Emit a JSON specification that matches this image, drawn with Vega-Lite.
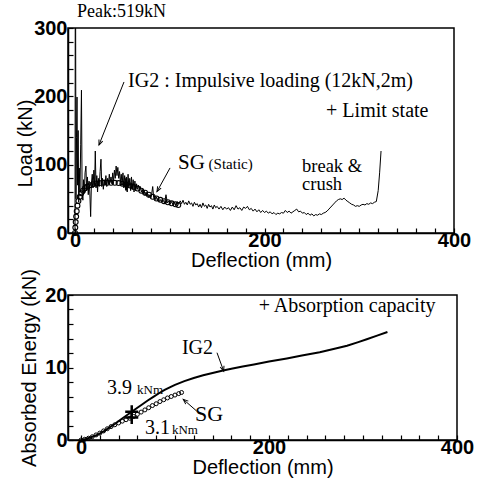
{
  "$schema": "https://vega.github.io/schema/vega-lite/v6.json",
  "background": "white",
  "padding": {"left": 14, "top": 2, "right": 0, "bottom": 0},
  "spacing": -4,
  "config": {
    "view": {"stroke": "black", "strokeWidth": 1.5},
    "axis": {
      "grid": false,
      "domainColor": "black",
      "domainWidth": 1.5,
      "tickColor": "black",
      "tickWidth": 1.2,
      "tickSize": -5,
      "labelFont": "Liberation Sans",
      "labelFontSize": 20,
      "labelFontWeight": "bold",
      "labelColor": "black",
      "labelFlush": false,
      "labelPadding": 2,
      "titleFont": "Liberation Sans",
      "titleFontSize": 20,
      "titleFontWeight": "normal",
      "titleColor": "black"
    },
    "axisY": {"labelPadding": 6},
    "text": {"font": "Liberation Serif", "color": "black"}
  },
  "datasets": {
    "ig2_load": [
      {"d": 0, "v": 0}, {"d": 0.4, "v": 519}, {"d": 1.0, "v": 50}, {"d": 1.6, "v": 140},
      {"d": 2.1, "v": 199}, {"d": 2.7, "v": 70}, {"d": 3.3, "v": 150}, {"d": 3.9, "v": 45},
      {"d": 4.5, "v": 95}, {"d": 5.2, "v": 60}, {"d": 6.0, "v": 130}, {"d": 6.8, "v": 209},
      {"d": 7.5, "v": 60}, {"d": 8.3, "v": 48}, {"d": 9.0, "v": 78}, {"d": 9.8, "v": 58},
      {"d": 10.6, "v": 88}, {"d": 11.5, "v": 98}, {"d": 12.3, "v": 62}, {"d": 13.1, "v": 82},
      {"d": 14.0, "v": 56}, {"d": 14.8, "v": 76}, {"d": 15.6, "v": 60}, {"d": 16.5, "v": 24},
      {"d": 17.3, "v": 72}, {"d": 18.2, "v": 86}, {"d": 19.0, "v": 66}, {"d": 19.9, "v": 92},
      {"d": 20.7, "v": 70}, {"d": 21.4, "v": 120}, {"d": 22.2, "v": 66}, {"d": 23.0, "v": 84},
      {"d": 23.8, "v": 60}, {"d": 24.6, "v": 80}, {"d": 25.5, "v": 68}, {"d": 26.5, "v": 90},
      {"d": 27.4, "v": 108}, {"d": 28.2, "v": 68}, {"d": 29.0, "v": 80}, {"d": 29.9, "v": 64},
      {"d": 30.8, "v": 78}, {"d": 31.7, "v": 70}, {"d": 32.6, "v": 84}, {"d": 33.5, "v": 68},
      {"d": 34.4, "v": 80}, {"d": 35.3, "v": 72}, {"d": 36.2, "v": 86}, {"d": 37.1, "v": 74},
      {"d": 38.0, "v": 82}, {"d": 38.9, "v": 72}, {"d": 39.8, "v": 88}, {"d": 40.7, "v": 76},
      {"d": 41.6, "v": 92}, {"d": 42.5, "v": 80}, {"d": 43.4, "v": 98}, {"d": 44.3, "v": 84},
      {"d": 45.2, "v": 96}, {"d": 46.1, "v": 80}, {"d": 47.0, "v": 90}, {"d": 47.9, "v": 74},
      {"d": 48.8, "v": 86}, {"d": 49.7, "v": 70}, {"d": 50.6, "v": 88}, {"d": 51.5, "v": 66},
      {"d": 52.4, "v": 84}, {"d": 53.3, "v": 64}, {"d": 54.2, "v": 82}, {"d": 55.1, "v": 60},
      {"d": 56.0, "v": 86}, {"d": 56.9, "v": 66}, {"d": 57.8, "v": 80}, {"d": 58.7, "v": 62},
      {"d": 59.6, "v": 82}, {"d": 60.5, "v": 64}, {"d": 61.4, "v": 78}, {"d": 62.3, "v": 60},
      {"d": 63.2, "v": 76}, {"d": 64.1, "v": 62}, {"d": 65.0, "v": 72}, {"d": 66.0, "v": 64},
      {"d": 67.0, "v": 70}, {"d": 68.0, "v": 62}, {"d": 69.0, "v": 68}, {"d": 70.0, "v": 60},
      {"d": 71.0, "v": 64}, {"d": 72.0, "v": 57}, {"d": 73.0, "v": 62}, {"d": 74.0, "v": 55},
      {"d": 75.0, "v": 60}, {"d": 76.0, "v": 54}, {"d": 77.0, "v": 57}, {"d": 78.0, "v": 52},
      {"d": 79.0, "v": 56}, {"d": 80.0, "v": 51}, {"d": 81.0, "v": 58}, {"d": 82.0, "v": 68},
      {"d": 83.0, "v": 52}, {"d": 84.0, "v": 54}, {"d": 85.0, "v": 49}, {"d": 86.0, "v": 53},
      {"d": 87.0, "v": 47}, {"d": 88.0, "v": 51}, {"d": 89.0, "v": 46}, {"d": 90.0, "v": 49},
      {"d": 91.5, "v": 45}, {"d": 93.0, "v": 48}, {"d": 94.5, "v": 44}, {"d": 96.0, "v": 56},
      {"d": 97.5, "v": 44}, {"d": 99.0, "v": 47}, {"d": 100.5, "v": 42}, {"d": 102.0, "v": 46},
      {"d": 103.5, "v": 41}, {"d": 105.0, "v": 45}, {"d": 106.5, "v": 40}, {"d": 108.0, "v": 46},
      {"d": 109.5, "v": 42}, {"d": 111.0, "v": 47}, {"d": 112.5, "v": 43}, {"d": 114.0, "v": 48},
      {"d": 115.5, "v": 42}, {"d": 117.0, "v": 45}, {"d": 118.5, "v": 41}, {"d": 120.0, "v": 47},
      {"d": 121.5, "v": 42}, {"d": 123.0, "v": 44}, {"d": 124.5, "v": 39}, {"d": 126.0, "v": 45},
      {"d": 127.5, "v": 41}, {"d": 129.0, "v": 43}, {"d": 130.5, "v": 38}, {"d": 132.0, "v": 42},
      {"d": 133.5, "v": 37}, {"d": 135.0, "v": 44}, {"d": 136.5, "v": 39}, {"d": 138.0, "v": 41},
      {"d": 139.5, "v": 36}, {"d": 141.0, "v": 42}, {"d": 142.5, "v": 38}, {"d": 144.0, "v": 40},
      {"d": 145.5, "v": 35}, {"d": 147.0, "v": 41}, {"d": 148.5, "v": 37}, {"d": 150.0, "v": 39},
      {"d": 152.0, "v": 35}, {"d": 154.0, "v": 39}, {"d": 156.0, "v": 34}, {"d": 158.0, "v": 38},
      {"d": 160.0, "v": 35}, {"d": 162.0, "v": 37}, {"d": 164.0, "v": 33}, {"d": 166.0, "v": 38},
      {"d": 168.0, "v": 34}, {"d": 170.0, "v": 40}, {"d": 172.0, "v": 35}, {"d": 174.0, "v": 37},
      {"d": 176.0, "v": 33}, {"d": 178.0, "v": 38}, {"d": 180.0, "v": 36}, {"d": 182.0, "v": 39},
      {"d": 184.0, "v": 34}, {"d": 186.0, "v": 36}, {"d": 188.0, "v": 32}, {"d": 190.0, "v": 35},
      {"d": 192.0, "v": 31}, {"d": 194.0, "v": 34}, {"d": 196.0, "v": 30}, {"d": 198.0, "v": 33},
      {"d": 200.0, "v": 30}, {"d": 202.0, "v": 32}, {"d": 204.0, "v": 29}, {"d": 206.0, "v": 31},
      {"d": 208.0, "v": 28}, {"d": 210.0, "v": 30}, {"d": 212.0, "v": 27}, {"d": 214.0, "v": 29},
      {"d": 216.0, "v": 28}, {"d": 218.0, "v": 30}, {"d": 220.0, "v": 29}, {"d": 222.0, "v": 33},
      {"d": 224.0, "v": 30}, {"d": 226.0, "v": 32}, {"d": 228.0, "v": 29}, {"d": 230.0, "v": 31},
      {"d": 232.0, "v": 33}, {"d": 234.0, "v": 35}, {"d": 236.0, "v": 31}, {"d": 238.0, "v": 32},
      {"d": 240.0, "v": 29}, {"d": 242.0, "v": 30}, {"d": 244.0, "v": 27}, {"d": 246.0, "v": 29},
      {"d": 248.0, "v": 26}, {"d": 250.0, "v": 28}, {"d": 252.0, "v": 25}, {"d": 254.0, "v": 27},
      {"d": 256.0, "v": 26}, {"d": 258.0, "v": 28}, {"d": 260.0, "v": 27}, {"d": 262.0, "v": 29},
      {"d": 264.0, "v": 30}, {"d": 266.0, "v": 32}, {"d": 268.0, "v": 35}, {"d": 270.0, "v": 38},
      {"d": 272.0, "v": 41}, {"d": 274.0, "v": 44}, {"d": 276.0, "v": 47}, {"d": 278.0, "v": 49},
      {"d": 280.0, "v": 50}, {"d": 282.0, "v": 49}, {"d": 284.0, "v": 51}, {"d": 286.0, "v": 48},
      {"d": 288.0, "v": 46}, {"d": 290.0, "v": 44}, {"d": 292.0, "v": 42}, {"d": 294.0, "v": 41},
      {"d": 296.0, "v": 39}, {"d": 298.0, "v": 40}, {"d": 300.0, "v": 39}, {"d": 302.0, "v": 41},
      {"d": 304.0, "v": 42}, {"d": 306.0, "v": 41}, {"d": 308.0, "v": 43}, {"d": 310.0, "v": 42},
      {"d": 312.0, "v": 44}, {"d": 314.0, "v": 43}, {"d": 316.0, "v": 45}, {"d": 318.0, "v": 46},
      {"d": 320.0, "v": 62}, {"d": 321.5, "v": 88}, {"d": 323.0, "v": 120}
    ],
    "sg_load": [
      {"d": 0, "v": 0}, {"d": 0.3, "v": 8}, {"d": 0.7, "v": 16}, {"d": 1.2, "v": 24},
      {"d": 1.8, "v": 32}, {"d": 2.6, "v": 40}, {"d": 3.6, "v": 47}, {"d": 5.0, "v": 53},
      {"d": 6.6, "v": 58}, {"d": 8.4, "v": 62}, {"d": 10.5, "v": 65.5}, {"d": 13.0, "v": 68},
      {"d": 16.0, "v": 70}, {"d": 19.0, "v": 71.5}, {"d": 22.5, "v": 72.5}, {"d": 26.0, "v": 73},
      {"d": 30.0, "v": 73.5}, {"d": 34.0, "v": 73.5}, {"d": 38.0, "v": 73.5}, {"d": 42.0, "v": 73.5},
      {"d": 46.0, "v": 73}, {"d": 50.0, "v": 72}, {"d": 54.0, "v": 71}, {"d": 58.0, "v": 69.5},
      {"d": 62.0, "v": 67.5}, {"d": 66.0, "v": 65}, {"d": 70.0, "v": 62}, {"d": 74.0, "v": 59},
      {"d": 78.0, "v": 56}, {"d": 82.0, "v": 53}, {"d": 86.0, "v": 50.5}, {"d": 90.0, "v": 48.5},
      {"d": 94.0, "v": 46.5}, {"d": 98.0, "v": 45}, {"d": 102.0, "v": 43.5}, {"d": 106.0, "v": 42},
      {"d": 109.0, "v": 41}
    ],
    "ig2_energy": [
      {"d": 0, "v": 0}, {"d": 5, "v": 0.15}, {"d": 10, "v": 0.35}, {"d": 18, "v": 0.75},
      {"d": 25, "v": 1.25}, {"d": 30, "v": 1.7}, {"d": 36, "v": 2.2}, {"d": 42, "v": 2.8},
      {"d": 48, "v": 3.35}, {"d": 54, "v": 3.9}, {"d": 60, "v": 4.45}, {"d": 65, "v": 4.9},
      {"d": 71, "v": 5.45}, {"d": 77, "v": 5.95}, {"d": 83, "v": 6.45}, {"d": 89, "v": 6.9},
      {"d": 95, "v": 7.3}, {"d": 100, "v": 7.6}, {"d": 110, "v": 8.12}, {"d": 120, "v": 8.55},
      {"d": 130, "v": 8.92}, {"d": 140, "v": 9.25}, {"d": 150, "v": 9.55}, {"d": 160, "v": 9.83},
      {"d": 172, "v": 10.13}, {"d": 184, "v": 10.42}, {"d": 200, "v": 10.82}, {"d": 219, "v": 11.25},
      {"d": 235, "v": 11.65}, {"d": 254, "v": 12.1}, {"d": 272, "v": 12.65}, {"d": 283, "v": 13.0},
      {"d": 295, "v": 13.5}, {"d": 304, "v": 13.9}, {"d": 315, "v": 14.4}, {"d": 326, "v": 14.9}
    ],
    "sg_energy": [
      {"d": 0, "v": 0}, {"d": 4, "v": 0.1}, {"d": 8, "v": 0.25}, {"d": 12, "v": 0.45},
      {"d": 16, "v": 0.7}, {"d": 20, "v": 0.95}, {"d": 24, "v": 1.25}, {"d": 28, "v": 1.55},
      {"d": 32, "v": 1.85}, {"d": 36, "v": 2.1}, {"d": 40, "v": 2.35}, {"d": 44, "v": 2.6},
      {"d": 48, "v": 2.8}, {"d": 52, "v": 3.0}, {"d": 56, "v": 3.25}, {"d": 60, "v": 3.55},
      {"d": 64, "v": 3.85}, {"d": 68, "v": 4.15}, {"d": 72, "v": 4.45}, {"d": 76, "v": 4.75},
      {"d": 80, "v": 5.0}, {"d": 84, "v": 5.3}, {"d": 88, "v": 5.55}, {"d": 92, "v": 5.8},
      {"d": 96, "v": 6.0}, {"d": 100, "v": 6.2}, {"d": 104, "v": 6.4}, {"d": 107, "v": 6.55}
    ]
  },
  "vconcat": [
    {
      "width": 386,
      "height": 205,
      "encoding": {
        "x": {
          "field": "d", "type": "quantitative",
          "scale": {"domain": [-7.4, 400], "nice": false, "zero": false},
          "axis": {
            "title": "Deflection (mm)",
            "values": [0, 20, 40, 60, 80, 100, 120, 140, 160, 180, 200, 220, 240, 260, 280, 300, 320, 340, 360, 380, 400],
            "labelExpr": "datum.value % 200 === 0 ? datum.label : ''",
            "titlePadding": 0
          }
        },
        "y": {
          "field": "v", "type": "quantitative",
          "scale": {"domain": [0, 300], "nice": false},
          "axis": {
            "title": "Load (kN)",
            "values": [0, 20, 40, 60, 80, 100, 120, 140, 160, 180, 200, 220, 240, 260, 280, 300],
            "labelExpr": "datum.value % 100 === 0 ? datum.label : ''",
            "titlePadding": -2,
            "titleY": 115
          }
        }
      },
      "layer": [
        {
          "data": {"name": "ig2_load"},
          "mark": {"type": "line", "color": "black", "strokeWidth": 1, "clip": true}
        },
        {
          "data": {"name": "sg_load"},
          "mark": {"type": "point", "shape": "circle", "filled": false, "color": "black", "size": 24, "strokeWidth": 1.1, "opacity": 1}
        },
        {
          "data": {"values": [{"d": 54, "v": 71}]},
          "mark": {"type": "point", "shape": "M-1,0L1,0M0,-1L0,1", "filled": false, "color": "black", "size": 150, "strokeWidth": 2.2, "opacity": 1}
        },
        {
          "data": {"values": [
            {"d": 51.7, "v": 221, "d2": 25.3, "v2": 128.8},
            {"d": 100.3, "v": 95.2, "d2": 86.5, "v2": 60.5}
          ]},
          "mark": {"type": "rule", "color": "black", "strokeWidth": 1},
          "encoding": {"x2": {"field": "d2"}, "y2": {"field": "v2"}}
        },
        {
          "data": {"values": [{"d": 25.3, "v": 128.8}]},
          "mark": {"type": "point", "shape": "M-0.8,2L0,0L0.8,2", "filled": false, "color": "black", "size": 25, "strokeWidth": 1, "angle": 201.6, "opacity": 1}
        },
        {
          "data": {"values": [{"d": 86.5, "v": 60.5}]},
          "mark": {"type": "point", "shape": "M-0.8,2L0,0L0.8,2", "filled": false, "color": "black", "size": 25, "strokeWidth": 1, "angle": 208.7, "opacity": 1}
        },
        {
          "data": {"values": [
            {"d": 56, "v": 222.5, "t": "IG2 : Impulsive loading (12kN,2m)"},
            {"d": 265, "v": 178.6, "t": "+  Limit state"}
          ]},
          "mark": {"type": "text", "align": "left", "baseline": "middle", "fontSize": 20},
          "encoding": {"text": {"field": "t"}}
        },
        {
          "data": {"values": [
            {"d": 239.6, "v": 98.5, "t": "break &"},
            {"d": 239.6, "v": 71, "t": "crush"}
          ]},
          "mark": {"type": "text", "align": "left", "baseline": "middle", "fontSize": 18.5},
          "encoding": {"text": {"field": "t"}}
        },
        {
          "data": {"values": [{"d": 2, "v": 323.6, "t": "Peak:519kN"}]},
          "mark": {"type": "text", "align": "left", "baseline": "middle", "fontSize": 18},
          "encoding": {"text": {"field": "t"}}
        },
        {
          "data": {"values": [{"d": 108.7, "v": 102.5, "t": "SG"}]},
          "mark": {"type": "text", "align": "left", "baseline": "middle", "fontSize": 21},
          "encoding": {"text": {"field": "t"}}
        },
        {
          "data": {"values": [{"d": 141, "v": 101.5, "t": "(Static)"}]},
          "mark": {"type": "text", "align": "left", "baseline": "middle", "fontSize": 15},
          "encoding": {"text": {"field": "t"}}
        }
      ]
    },
    {
      "width": 389,
      "height": 145,
      "encoding": {
        "x": {
          "field": "d", "type": "quantitative",
          "scale": {"domain": [-13.8, 400], "nice": false, "zero": false},
          "axis": {
            "title": "Deflection (mm)",
            "values": [0, 20, 40, 60, 80, 100, 120, 140, 160, 180, 200, 220, 240, 260, 280, 300, 320, 340, 360, 380, 400],
            "labelExpr": "datum.value % 200 === 0 ? datum.label : ''",
            "titlePadding": 0
          }
        },
        "y": {
          "field": "v", "type": "quantitative",
          "scale": {"domain": [0, 20], "nice": false},
          "axis": {
            "title": "Absorbed Energy (kN)",
            "values": [0, 2, 4, 6, 8, 10, 12, 14, 16, 18, 20],
            "labelExpr": "datum.value % 10 === 0 ? datum.label : ''",
            "titlePadding": 5
          }
        }
      },
      "layer": [
        {
          "data": {"name": "ig2_energy"},
          "mark": {"type": "line", "color": "black", "strokeWidth": 2, "clip": true}
        },
        {
          "data": {"name": "sg_energy"},
          "mark": {"type": "point", "shape": "circle", "filled": false, "color": "black", "size": 16, "strokeWidth": 1, "opacity": 1}
        },
        {
          "data": {"values": [{"d": 54, "v": 3.9}, {"d": 54, "v": 3.1}]},
          "mark": {"type": "point", "shape": "M-1,0L1,0M0,-1L0,1", "filled": false, "color": "black", "size": 170, "strokeWidth": 2.5, "opacity": 1}
        },
        {
          "data": {"values": [
            {"d": 144.7, "v": 12.04, "d2": 151.8, "v2": 9.5},
            {"d": 123, "v": 4.0, "d2": 108.8, "v2": 5.61}
          ]},
          "mark": {"type": "rule", "color": "black", "strokeWidth": 1},
          "encoding": {"x2": {"field": "d2"}, "y2": {"field": "v2"}}
        },
        {
          "data": {"values": [{"d": 151.8, "v": 9.5}]},
          "mark": {"type": "point", "shape": "M-0.8,2L0,0L0.8,2", "filled": false, "color": "black", "size": 25, "strokeWidth": 1, "angle": 161.5, "opacity": 1}
        },
        {
          "data": {"values": [{"d": 108.8, "v": 5.61}]},
          "mark": {"type": "point", "shape": "M-0.8,2L0,0L0.8,2", "filled": false, "color": "black", "size": 25, "strokeWidth": 1, "angle": 311, "opacity": 1}
        },
        {
          "data": {"values": [
            {"d": 189, "v": 18.5, "t": "+ Absorption capacity"},
            {"d": 107.4, "v": 12.7, "t": "IG2"},
            {"d": 27.7, "v": 7.17, "t": "3.9"},
            {"d": 68, "v": 1.66, "t": "3.1"}
          ]},
          "mark": {"type": "text", "align": "left", "baseline": "middle", "fontSize": 20},
          "encoding": {"text": {"field": "t"}}
        },
        {
          "data": {"values": [{"d": 121.3, "v": 3.6, "t": "SG"}]},
          "mark": {"type": "text", "align": "left", "baseline": "middle", "fontSize": 22},
          "encoding": {"text": {"field": "t"}}
        },
        {
          "data": {"values": [
            {"d": 59.6, "v": 6.9, "t": "kNm"},
            {"d": 96.8, "v": 1.4, "t": "kNm"}
          ]},
          "mark": {"type": "text", "align": "left", "baseline": "middle", "fontSize": 13},
          "encoding": {"text": {"field": "t"}}
        }
      ]
    }
  ]
}
